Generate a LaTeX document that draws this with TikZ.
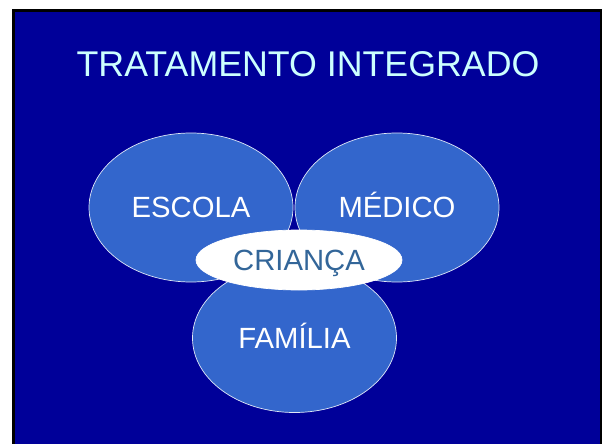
\documentclass[tikz,border=0pt]{standalone}
\usepackage{fontspec}
\setmainfont{Liberation Sans}
\usepackage{xcolor}
\usepackage{tikz}
\usetikzlibrary{shapes.geometric}

\definecolor{fundo}{HTML}{000099}
\definecolor{bolha}{HTML}{3366CC}
\definecolor{titulo}{HTML}{CCFFFF}
\definecolor{textocrianca}{HTML}{336699}

\tikzset{
  bolha/.style={ellipse, fill=bolha, draw=white!85!bolha, line width=0.7pt,
    minimum width=204pt, minimum height=149pt, inner sep=0pt,
    text=white, font=\fontsize{29.25}{32}\selectfont,
    text height=20.9pt, text depth=0pt},
  centro/.style={ellipse, fill=white, draw=white, line width=0.7pt,
    minimum width=206pt, minimum height=60pt, inner sep=0pt,
    text=textocrianca, font=\fontsize{29.25}{32}\selectfont,
    text height=20.9pt, text depth=0pt}
}

\begin{document}
\begin{tikzpicture}[x=1pt,y=-1pt]
     \useasboundingbox (0,0) rectangle (602,444);
     \fill[black] (12,9) rectangle (602,444);
     \fill[fundo] (15,12) rectangle (600,444);
     \node[anchor=base, text=titulo, font=\fontsize{35.75}{40}\selectfont, inner sep=0pt] (titulo) at (308,76.7) {TRATAMENTO INTEGRADO};
     \node[bolha] (escola) at (191,207.5) {ESCOLA};
     \node[bolha] (medico) at (397,207.5) {MÉDICO};
     \node[bolha] (familia) at (294.5,338) {FAMÍLIA};
     \node[centro] (crianca) at (299,260) {CRIANÇA};
\end{tikzpicture}
\end{document}
